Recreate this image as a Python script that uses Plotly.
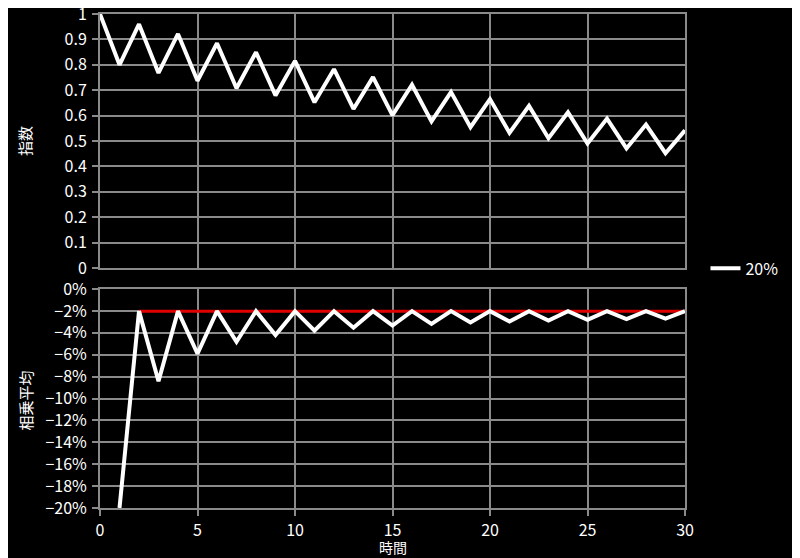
import plotly.graph_objects as go

t = list(range(0, 31))
index_vals = [1.0, 0.8, 0.96, 0.768, 0.9216, 0.73728, 0.884736, 0.707789, 0.849347,
              0.679477, 0.815373, 0.652298, 0.782758, 0.626206, 0.751447, 0.601158,
              0.721390, 0.577112, 0.692534, 0.554027, 0.664833, 0.531866, 0.638239,
              0.510591, 0.612710, 0.490168, 0.588201, 0.470561, 0.564673, 0.451739,
              0.542086]
t_gm = list(range(1, 31))
geo_mean = [-0.2, -0.020204, -0.084229, -0.020204, -0.059137, -0.020204, -0.048174,
            -0.020204, -0.042028, -0.020204, -0.038096, -0.020204, -0.035365, -0.020204,
            -0.033358, -0.020204, -0.031818, -0.020204, -0.030603, -0.020204, -0.029617,
            -0.020204, -0.028802, -0.020204, -0.028117, -0.020204, -0.027534, -0.020204,
            -0.027030, -0.020204]
t_ref = [2, 30]
ref_vals = [-0.020204, -0.020204]

font = "Noto Sans CJK JP, sans-serif"
grid = "#8a8a8a"

fig = go.Figure()
fig.add_trace(go.Scatter(x=t, y=index_vals, mode="lines", line=dict(color="white", width=4),
                         showlegend=False, xaxis="x", yaxis="y"))
fig.add_trace(go.Scatter(x=t_ref, y=ref_vals, mode="lines", line=dict(color="#e00000", width=3),
                         showlegend=False, xaxis="x2", yaxis="y2"))
fig.add_trace(go.Scatter(x=t_gm, y=geo_mean, mode="lines", line=dict(color="white", width=4),
                         name="20%", showlegend=True, xaxis="x2", yaxis="y2"))

axis_common = dict(showgrid=True, gridcolor=grid, gridwidth=2, showline=True, linecolor=grid,
                   linewidth=2, mirror=True, zeroline=False, ticks="outside", tickcolor=grid,
                   ticklen=6, tickwidth=2, automargin=False, ticklabeloverflow="allow",
                   tickfont=dict(color="white", size=16, family=font))

x_top = dict(axis_common)
x_top["ticks"] = ""

fig.update_layout(
    width=792, height=550,
    paper_bgcolor="black", plot_bgcolor="black",
    margin=dict(l=92, r=115, t=6, b=50),
    font=dict(family=font, color="white", size=15),
    xaxis=dict(domain=[0, 1], range=[0, 30], dtick=5, anchor="y", showticklabels=False, **x_top),
    yaxis=dict(domain=[0.4859, 1], range=[0, 1], dtick=0.1, anchor="x",
               ticklabelstandoff=2, **axis_common),
    xaxis2=dict(domain=[0, 1], range=[0, 30], dtick=5, anchor="y2", ticklabelstandoff=1,
                **axis_common),
    yaxis2=dict(domain=[0, 0.4433], range=[-0.2, 0], dtick=0.02, tickformat=".0%", anchor="x2",
                ticklabelstandoff=2, **axis_common),
    legend=dict(x=1.035, y=0.485, xanchor="left", yanchor="middle", bgcolor="rgba(0,0,0,0)",
                font=dict(color="white", size=16, family=font)),
    annotations=[
        dict(text="指数", xref="paper", yref="paper", x=-0.128, y=0.743, textangle=-90,
             showarrow=False, xanchor="center", yanchor="middle",
             font=dict(size=15, color="white", family=font)),
        dict(text="相乗平均", xref="paper", yref="paper", x=-0.128, y=0.218, textangle=-90,
             showarrow=False, xanchor="center", yanchor="middle",
             font=dict(size=15, color="white", family=font)),
        dict(text="時間", xref="paper", yref="paper", x=0.5, y=-0.079, showarrow=False,
             xanchor="center", yanchor="middle",
             font=dict(size=14, color="white", family=font)),
    ],
)

fig.write_html("out.html")
